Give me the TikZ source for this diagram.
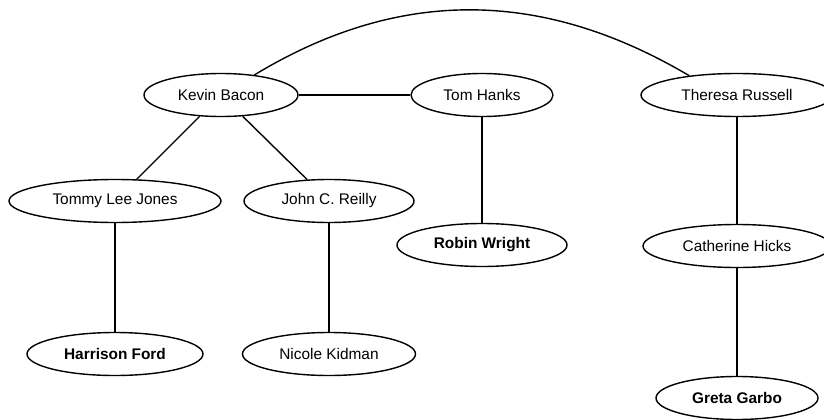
\documentclass[tikz,border=0pt]{standalone}
\usepackage{fontspec}
\setmainfont{Liberation Sans}
\usetikzlibrary{shapes.geometric}
\begin{document}
\begin{tikzpicture}[x=1pt,y=-1pt,
  actor/.style={draw=black, ellipse, line width=1.4pt, inner sep=0pt, minimum height=43pt,
    font=\fontsize{15.4}{18}\selectfont},
  target/.style={actor, font=\fontsize{15.4}{18}\selectfont\bfseries},
  link/.style={draw=black, line width=1.4pt}]
\useasboundingbox (0,0) rectangle (824,420);
\node[actor, minimum width=154pt] (kb) at (221,95) {Kevin Bacon};
\node[actor, minimum width=142pt] (th) at (482,95) {Tom Hanks};
\node[actor, minimum width=192pt] (tr) at (737,95) {Theresa Russell};
\node[actor, minimum width=212pt] (tlj) at (115,201) {Tommy Lee Jones};
\node[actor, minimum width=170pt] (jcr) at (329,201) {John C. Reilly};
\node[target, minimum width=170pt] (rw) at (482,245) {Robin Wright};
\node[actor, minimum width=188pt] (ch) at (737,246) {Catherine Hicks};
\node[target, minimum width=176pt] (hf) at (115,354) {Harrison Ford};
\node[actor, minimum width=173pt] (nk) at (329,354) {Nicole Kidman};
\node[target, minimum width=162pt] (gg) at (737,398) {Greta Garbo};
\draw[link] (kb) -- (th);
\draw[link] (kb) -- (tlj);
\draw[link] (kb) -- (jcr);
\draw[link] (th) -- (rw);
\draw[link] (tr) -- (ch);
\draw[link] (tlj) -- (hf);
\draw[link] (jcr) -- (nk);
\draw[link] (ch) -- (gg);
\draw[link] (kb.31) .. controls (398,-12) and (541,-12) .. (tr.158);
\end{tikzpicture}
\end{document}
